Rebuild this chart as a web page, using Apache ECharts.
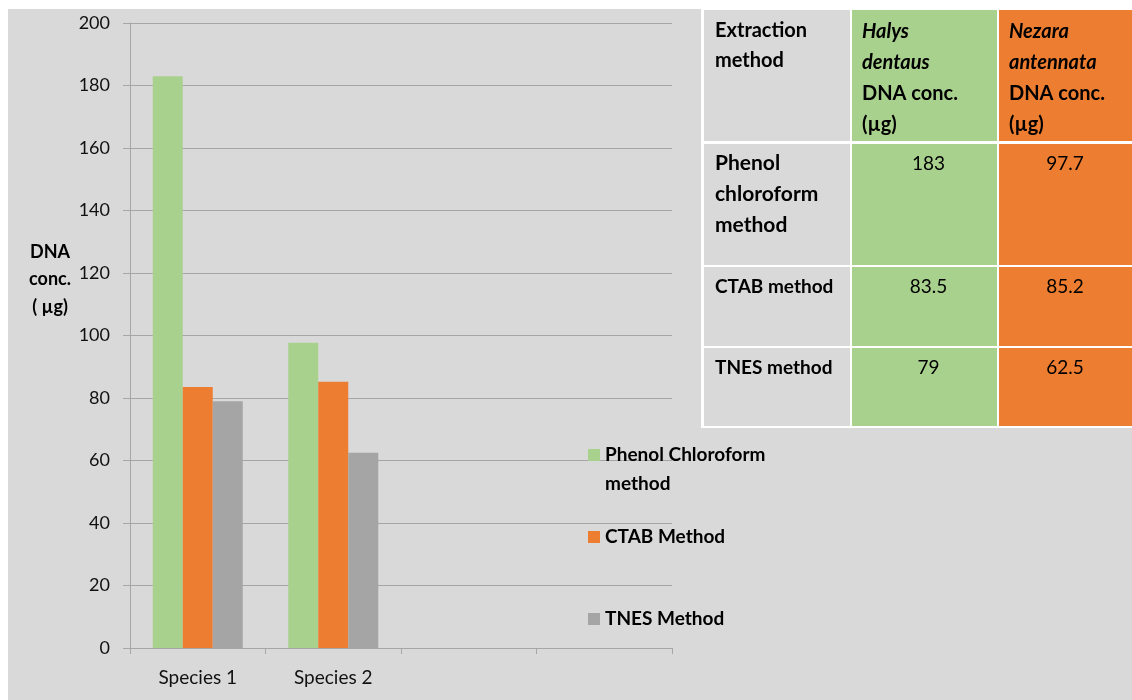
<!DOCTYPE html>
<html>
<head>
<meta charset="utf-8">
<script src="https://cdn.jsdelivr.net/npm/echarts@6/dist/echarts.min.js"></script>
<style>
  html, body { margin: 0; padding: 0; background: #ffffff; }
  #chart { width: 1132px; height: 700px; }
</style>
</head>
<body>
<div id="chart"></div>
<script>
// Extraction methods and measured DNA concentration (µg) per species
const methodNames = ['Phenol Chloroform\nmethod', 'CTAB Method', 'TNES Method'];
const methodTableLabels = ['Phenol\nchloroform\nmethod', 'CTAB method', 'TNES method'];
const halysConc = [183, 83.5, 79];     // Species 1: Halys dentaus
const nezaraConc = [97.7, 85.2, 62.5]; // Species 2: Nezara antennata
const categories = ['Species 1', 'Species 2', '', ''];
const colors = ['#a9d18e', '#ed7d31', '#a5a5a5'];

const FONT = 'Lato, "Open Sans", sans-serif';
const BG = '#d9d9d9';

// one bar series per method, values taken from the table columns
const series = methodNames.map((name, i) => ({
  name: name,
  type: 'bar',
  barWidth: 30,
  barGap: '0%',
  itemStyle: { color: colors[i] },
  data: [halysConc[i], nezaraConc[i], null, null]
}));

// table layout
const colX = [704, 852, 999];
const colW = [146, 145, 140];
const rowY = [10, 144, 267, 348];
const rowH = [131, 121, 79, 78];
const cellFill = [BG, colors[0], colors[1]];

const tableEls = [];
tableEls.push({ type: 'rect', shape: { x: 701, y: 9, width: 431, height: 419 }, style: { fill: '#ffffff' } });
for (let r = 0; r < rowY.length; r++) {
  for (let c = 0; c < colX.length; c++) {
    tableEls.push({ type: 'rect', shape: { x: colX[c], y: rowY[r], width: colW[c], height: rowH[r] }, style: { fill: cellFill[c] } });
  }
}
// header row
tableEls.push({
  type: 'text', x: 715, y: rowY[0] + 6,
  style: { text: 'Extraction\nmethod', font: 'bold 20px ' + FONT, fill: '#000', lineHeight: 30, verticalAlign: 'top' }
});
[['Halys', 'dentaus'], ['Nezara', 'antennata']].forEach((sp, k) => {
  tableEls.push({
    type: 'text', x: colX[k + 1] + 10, y: rowY[0] + 6,
    style: {
      text: '{i|' + sp[0] + '}\n{i|' + sp[1] + '}\n{b|DNA conc.}\n{b|(µg)}',
      verticalAlign: 'top',
      rich: {
        i: { font: 'italic bold 20px ' + FONT, fill: '#000', lineHeight: 31 },
        b: { font: 'bold 20px ' + FONT, fill: '#000', lineHeight: 31 }
      }
    }
  });
});
// body rows
methodTableLabels.forEach((label, i) => {
  const r = i + 1;
  const size = i === 0 ? 21 : 19;
  tableEls.push({
    type: 'text', x: 715, y: rowY[r] + 4,
    style: { text: label, font: 'bold ' + size + 'px ' + FONT, fill: '#000', lineHeight: 31, verticalAlign: 'top' }
  });
  [halysConc[i], nezaraConc[i]].forEach((v, k) => {
    tableEls.push({
      type: 'text', x: colX[k + 1] + colW[k + 1] / 2 + (k === 0 ? 4 : -4), y: rowY[r] + 4,
      style: { text: String(v), font: '19px ' + FONT, fill: '#000', lineHeight: 31, align: 'center', verticalAlign: 'top' }
    });
  });
});

const legendBase = {
  orient: 'vertical', left: 588, padding: 0, itemWidth: 12, itemHeight: 12,
  icon: 'rect', selectedMode: false,
  textStyle: { fontFamily: FONT, fontSize: 19, fontWeight: 'bold', color: '#000', lineHeight: 29 }
};

const option = {
  backgroundColor: '#ffffff',
  animation: false,
  textStyle: { fontFamily: FONT },
  grid: { left: 130, top: 23, right: 460, bottom: 52, containLabel: false },
  legend: [
    // leading blank line keeps the first text line level with the swatch
    Object.assign({}, legendBase, { top: 411.5, data: [methodNames[0]], formatter: name => ' \n' + name }),
    Object.assign({}, legendBase, { top: 522.5, data: [methodNames[1]] }),
    Object.assign({}, legendBase, { top: 604.5, data: [methodNames[2]] })
  ],
  xAxis: {
    type: 'category',
    data: categories,
    axisLine: { lineStyle: { color: '#a6a6a6', width: 1 } },
    axisTick: { show: true, length: 6, lineStyle: { color: '#a6a6a6' } },
    axisLabel: { fontSize: 19, color: '#111', margin: 20, fontFamily: FONT }
  },
  yAxis: {
    type: 'value',
    min: 0, max: 200, interval: 20,
    axisLine: { show: true, lineStyle: { color: '#a6a6a6', width: 1 } },
    axisTick: { show: true, length: 7, lineStyle: { color: '#a6a6a6' } },
    axisLabel: { fontSize: 18, color: '#111', margin: 20, fontFamily: FONT },
    splitLine: { lineStyle: { color: '#a6a6a6', width: 1 } }
  },
  graphic: [
    { type: 'rect', z: -10, silent: true, shape: { x: 8, y: 9, width: 1124, height: 691 }, style: { fill: BG } },
    {
      type: 'text', x: 50, y: 238,
      style: { text: 'DNA\nconc.\n( µg)', font: 'bold 18px ' + FONT, fill: '#000', lineHeight: 27.5, align: 'center', verticalAlign: 'top' }
    },
    { type: 'group', children: tableEls }
  ],
  series: series
};

const chart = echarts.init(document.getElementById('chart'), null, { renderer: 'canvas' });
chart.setOption(option);
</script>
</body>
</html>
